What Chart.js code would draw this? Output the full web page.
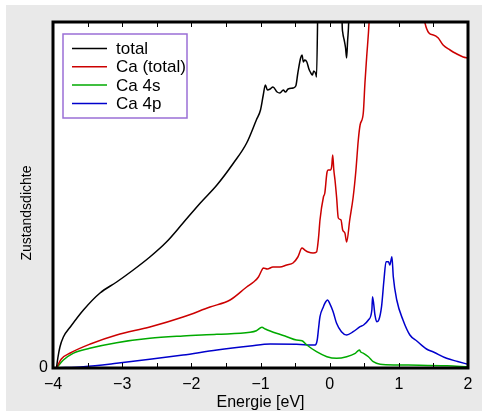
<!DOCTYPE html>
<html>
<head>
<meta charset="utf-8">
<script src="https://cdn.jsdelivr.net/npm/chart.js@4.4.0/dist/chart.umd.min.js"></script>
<style>
  html, body { margin: 0; padding: 0; background: #fff; }
</style>
</head>
<body>
<canvas id="dosChart" width="490" height="413"></canvas>
<script>
// ─── Data (energy in eV, DOS in arbitrary units; 40 = off the top) ───────────

const seriesLabels = ['total', 'Ca (total)', 'Ca 4s', 'Ca 4p'];
const seriesColors = ['#000000', '#cc0000', '#00aa00', '#0000cc'];

const totalE = [-3.95, -3.93, -3.90, -3.85, -3.75, -3.56, -3.32, -3.08, -2.84, -2.60, -2.36, -2.12, -1.87, -1.63, -1.39, -1.20, -1.06, -1.00, -0.96, -0.93, -0.90, -0.86, -0.82, -0.76, -0.72, -0.67, -0.64, -0.60, -0.53, -0.49, -0.46, -0.42, -0.40, -0.38, -0.36, -0.33, -0.30, -0.28, -0.25, -0.23, -0.20, -0.19, -0.16, 0.17, 0.18, 0.19, 0.21, 0.23, 0.245, 0.26, 0.275, 0.29, 2.0];
const totalY = [0, 1.0, 2.1, 3.1, 4.1, 5.8, 7.5, 8.6, 9.8, 11.1, 12.6, 14.5, 16.5, 18.3, 20.5, 22.5, 24.8, 25.8, 27.3, 28.3, 27.8, 27.9, 28.1, 27.6, 27.5, 27.8, 27.6, 27.9, 28.0, 28.2, 29.5, 31.0, 31.3, 30.6, 30.8, 30.6, 29.9, 29.6, 29.3, 29.7, 29.4, 29.1, 40, 40, 34.5, 33.5, 32.8, 32.0, 31.0, 32.8, 34.6, 40, 40];

const caE = [-3.95, -3.88, -3.75, -3.46, -3.08, -2.60, -2.12, -1.73, -1.44, -1.20, -1.10, -1.03, -0.98, -0.96, -0.90, -0.82, -0.72, -0.62, -0.53, -0.46, -0.40, -0.36, -0.31, -0.24, -0.19, -0.16, -0.14, -0.09, -0.07, -0.04, -0.02, 0.015, 0.03, 0.044, 0.06, 0.077, 0.10, 0.125, 0.164, 0.188, 0.22, 0.246, 0.29, 0.34, 0.38, 0.414, 0.44, 0.486, 0.51, 0.535, 0.57, 0.60, 1.35, 1.378, 1.50, 1.57, 1.64, 1.74, 1.84, 1.93, 2.0];
const caY = [0, 0.9, 1.5, 2.4, 3.3, 4.1, 5.1, 6.1, 6.8, 8.1, 8.6, 9.1, 9.8, 10.0, 9.9, 10.1, 10.1, 10.3, 10.5, 11.1, 12.0, 11.8, 11.6, 11.5, 11.6, 13.1, 14.8, 17.1, 17.5, 19.5, 19.8, 19.8, 20.2, 21.3, 19.8, 18.8, 17.1, 15.0, 14.8, 13.8, 13.5, 12.6, 14.8, 17.1, 19.8, 22.8, 24.3, 25.5, 28.5, 31.1, 34.6, 40, 40, 34.5, 33.3, 33.0, 32.3, 31.8, 31.4, 31.1, 31.0];

const s4E = [-3.95, -3.85, -3.71, -3.47, -3.08, -2.60, -2.12, -1.63, -1.15, -1.06, -0.98, -0.93, -0.86, -0.77, -0.62, -0.48, -0.40, -0.33, -0.19, -0.04, 0.10, 0.246, 0.37, 0.43, 0.45, 0.49, 0.56, 0.63, 0.73, 0.97, 1.3, 1.7, 2.0];
const s4Y = [0, 0.8, 1.47, 1.97, 2.53, 2.97, 3.2, 3.37, 3.57, 3.73, 4.07, 3.9, 3.7, 3.47, 3.13, 2.8, 2.73, 2.3, 1.63, 1.13, 0.97, 1.13, 1.47, 1.8, 1.6, 1.47, 1.13, 0.63, 0.37, 0.3, 0.28, 0.22, 0.13];

const p4E = [-3.95, -3.56, -3.08, -2.60, -2.12, -1.63, -1.15, -0.86, -0.48, -0.21, -0.18, -0.16, -0.14, -0.09, -0.07, -0.03, 0.0, 0.05, 0.10, 0.17, 0.246, 0.34, 0.44, 0.49, 0.56, 0.61, 0.62, 0.655, 0.68, 0.71, 0.75, 0.785, 0.815, 0.85, 0.87, 0.90, 0.92, 0.97, 1.06, 1.16, 1.26, 1.40, 1.50, 1.69, 1.85, 2.0];
const p4Y = [0, 0.13, 0.47, 0.87, 1.3, 1.8, 2.2, 2.4, 2.37, 2.3, 2.8, 4.0, 5.13, 6.13, 6.47, 6.8, 6.47, 5.63, 4.47, 3.63, 3.3, 3.63, 4.13, 4.3, 4.8, 5.8, 7.13, 5.3, 4.63, 4.8, 6.13, 8.8, 10.63, 10.63, 10.3, 11.13, 9.13, 6.8, 4.8, 3.3, 2.7, 1.9, 1.6, 0.97, 0.65, 0.37];

const xTicks = [-4, -3, -2, -1, 0, 1, 2];
const yTicks = [0];

// ─── Helpers ────────────────────────────────────────────────────────────────

const FONT = 'Liberation Sans';
const pts = (xs, ys) => xs.map((x, i) => ({ x: x, y: ys[i] }));
const minus = (v) => String(v).replace('-', '\u2212');

// gray panel, frame, inward ticks, legend box and y title
const decor = {
  id: 'decor',
  beforeDraw(chart) {
    const ctx = chart.ctx;
    ctx.save();
    ctx.fillStyle = '#ffffff';
    ctx.fillRect(0, 0, chart.width, chart.height);
    ctx.fillStyle = '#e9e9e9';
    ctx.fillRect(6, 5, 476, 406);
    const a = chart.chartArea;
    ctx.fillStyle = '#ffffff';
    ctx.fillRect(a.left, a.top, a.right - a.left, a.bottom - a.top);
    ctx.restore();
  },
  afterDraw(chart) {
    const ctx = chart.ctx;
    const a = chart.chartArea;
    const xs = chart.scales.x;
    ctx.save();

    // inward tick marks every 0.5 eV
    ctx.strokeStyle = '#000';
    ctx.lineWidth = 1;
    for (let v = -4; v <= 2.001; v += 0.5) {
      const px = Math.round(xs.getPixelForValue(v)) + 0.5;
      ctx.beginPath();
      ctx.moveTo(px, a.bottom); ctx.lineTo(px, a.bottom - 5);
      ctx.moveTo(px, a.top); ctx.lineTo(px, a.top + 5);
      ctx.stroke();
    }

    // frame
    ctx.lineWidth = 3;
    ctx.strokeRect(a.left, a.top, a.right - a.left, a.bottom - a.top);

    // legend
    const lx = a.left + 10, ly = a.top + 12;
    ctx.fillStyle = '#fff';
    ctx.fillRect(lx, ly, 124, 84);
    ctx.strokeStyle = '#9a6fd6';
    ctx.lineWidth = 1.5;
    ctx.strokeRect(lx, ly, 124, 84);
    ctx.font = '17px "' + FONT + '"';
    ctx.textBaseline = 'middle';
    chart.data.datasets.forEach((ds, i) => {
      const yy = ly + 14.5 + i * 18.3;
      ctx.strokeStyle = ds.borderColor;
      ctx.beginPath();
      ctx.moveTo(lx + 9, yy); ctx.lineTo(lx + 44, yy);
      ctx.stroke();
      ctx.fillStyle = '#000';
      ctx.fillText(ds.label, lx + 53, yy + 1);
    });

    // y title
    ctx.translate(27, 213);
    ctx.rotate(-Math.PI / 2);
    ctx.textAlign = 'center';
    ctx.textBaseline = 'middle';
    ctx.fillStyle = '#000';
    ctx.font = '14px "' + FONT + '"';
    ctx.fillText('Zustandsdichte', 0, 0);
    ctx.restore();
  },
};

// ─── Chart ──────────────────────────────────────────────────────────────────

const allE = [totalE, caE, s4E, p4E];
const allY = [totalY, caY, s4Y, p4Y];

new Chart(document.getElementById('dosChart'), {
  type: 'line',
  data: {
    datasets: seriesLabels.map((label, i) => ({
      label: label,
      data: pts(allE[i], allY[i]),
      borderColor: seriesColors[i],
      borderWidth: 1.5,
      pointRadius: 0,
      cubicInterpolationMode: 'monotone',
      fill: false,
    })),
  },
  options: {
    responsive: false,
    animation: false,
    layout: { padding: { top: 22, right: 22, left: 0, bottom: 0 } },
    plugins: {
      legend: { display: false },
      tooltip: { enabled: false },
    },
    scales: {
      x: {
        type: 'linear',
        min: -4, max: 2,
        afterFit: (s) => { s.height = 45; },
        afterBuildTicks: (s) => { s.ticks = xTicks.map((v) => ({ value: v })); },
        grid: { display: false, drawTicks: false },
        border: { display: false },
        ticks: {
          padding: 7,
          color: '#000',
          font: { family: FONT, size: 16 },
          callback: (v) => minus(v),
        },
        title: {
          display: true,
          text: 'Energie [eV]',
          color: '#000',
          font: { family: FONT, size: 16 },
          padding: { top: 0, bottom: 1 },
        },
      },
      y: {
        min: 0, max: 34.6,
        afterFit: (s) => { s.width = 53; },
        afterBuildTicks: (s) => { s.ticks = yTicks.map((v) => ({ value: v })); },
        grid: { display: false, drawTicks: false },
        border: { display: false },
        ticks: {
          padding: 5,
          color: '#000',
          font: { family: FONT, size: 16 },
        },
      },
    },
  },
  plugins: [decor],
});
</script>
</body>
</html>
